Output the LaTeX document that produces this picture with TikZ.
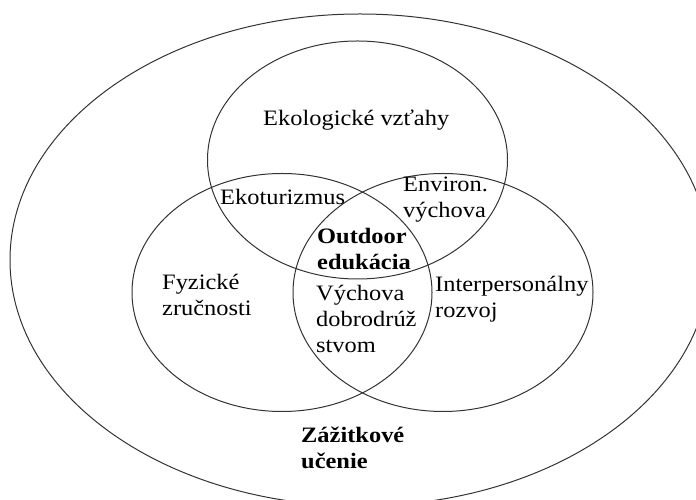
\documentclass[tikz,border=0pt]{standalone}
\usepackage{fontspec}
\setmainfont{Liberation Serif}[FakeStretch=1.11]
\begin{document}
\begin{tikzpicture}[x=1pt,y=1pt,line join=round,line cap=round,
	kruh/.style={line width=1pt,black!80},
	popis/.style={anchor=west,align=left,inner sep=0pt,font=\fontsize{22}{26}\selectfont},
	hlavny/.style={popis,font=\fontsize{22}{26}\selectfont\bfseries}]
	\def\rx{150}
	\def\ry{119}
	\useasboundingbox (0,0) rectangle (696,500);
	\clip (0,0) rectangle (696,500);
	% kruhy
	\draw[kruh] (360,240) ellipse [x radius=350, y radius=246];
	\draw[kruh] (357.5,340) ellipse [x radius=\rx, y radius=\ry];
	\draw[kruh] (282,207.5) ellipse [x radius=\rx, y radius=\ry];
	\draw[kruh] (443,207.5) ellipse [x radius=\rx, y radius=\ry];
	% popisy
	\node[popis] (ekol) at (263,380) {Ekologické vzťahy};
	\node[popis] (ekot) at (220,303) {Ekoturizmus};
	\node[popis] (env) at (403,300) {Environ.\\výchova};
	\node[hlavny] (out) at (317,250.5) {Outdoor\\edukácia};
	\node[popis] (fyz) at (162,205.5) {Fyzické\\zručnosti};
	\node[popis] (dobr) at (316,181) {Výchova\\dobrodrúž\\stvom};
	\node[popis] (inter) at (435,200.5) {Interpersonálny\\rozvoj};
	\node[hlavny] (zaz) at (301,52.5) {Zážitkové\\učenie};
\end{tikzpicture}
\end{document}
